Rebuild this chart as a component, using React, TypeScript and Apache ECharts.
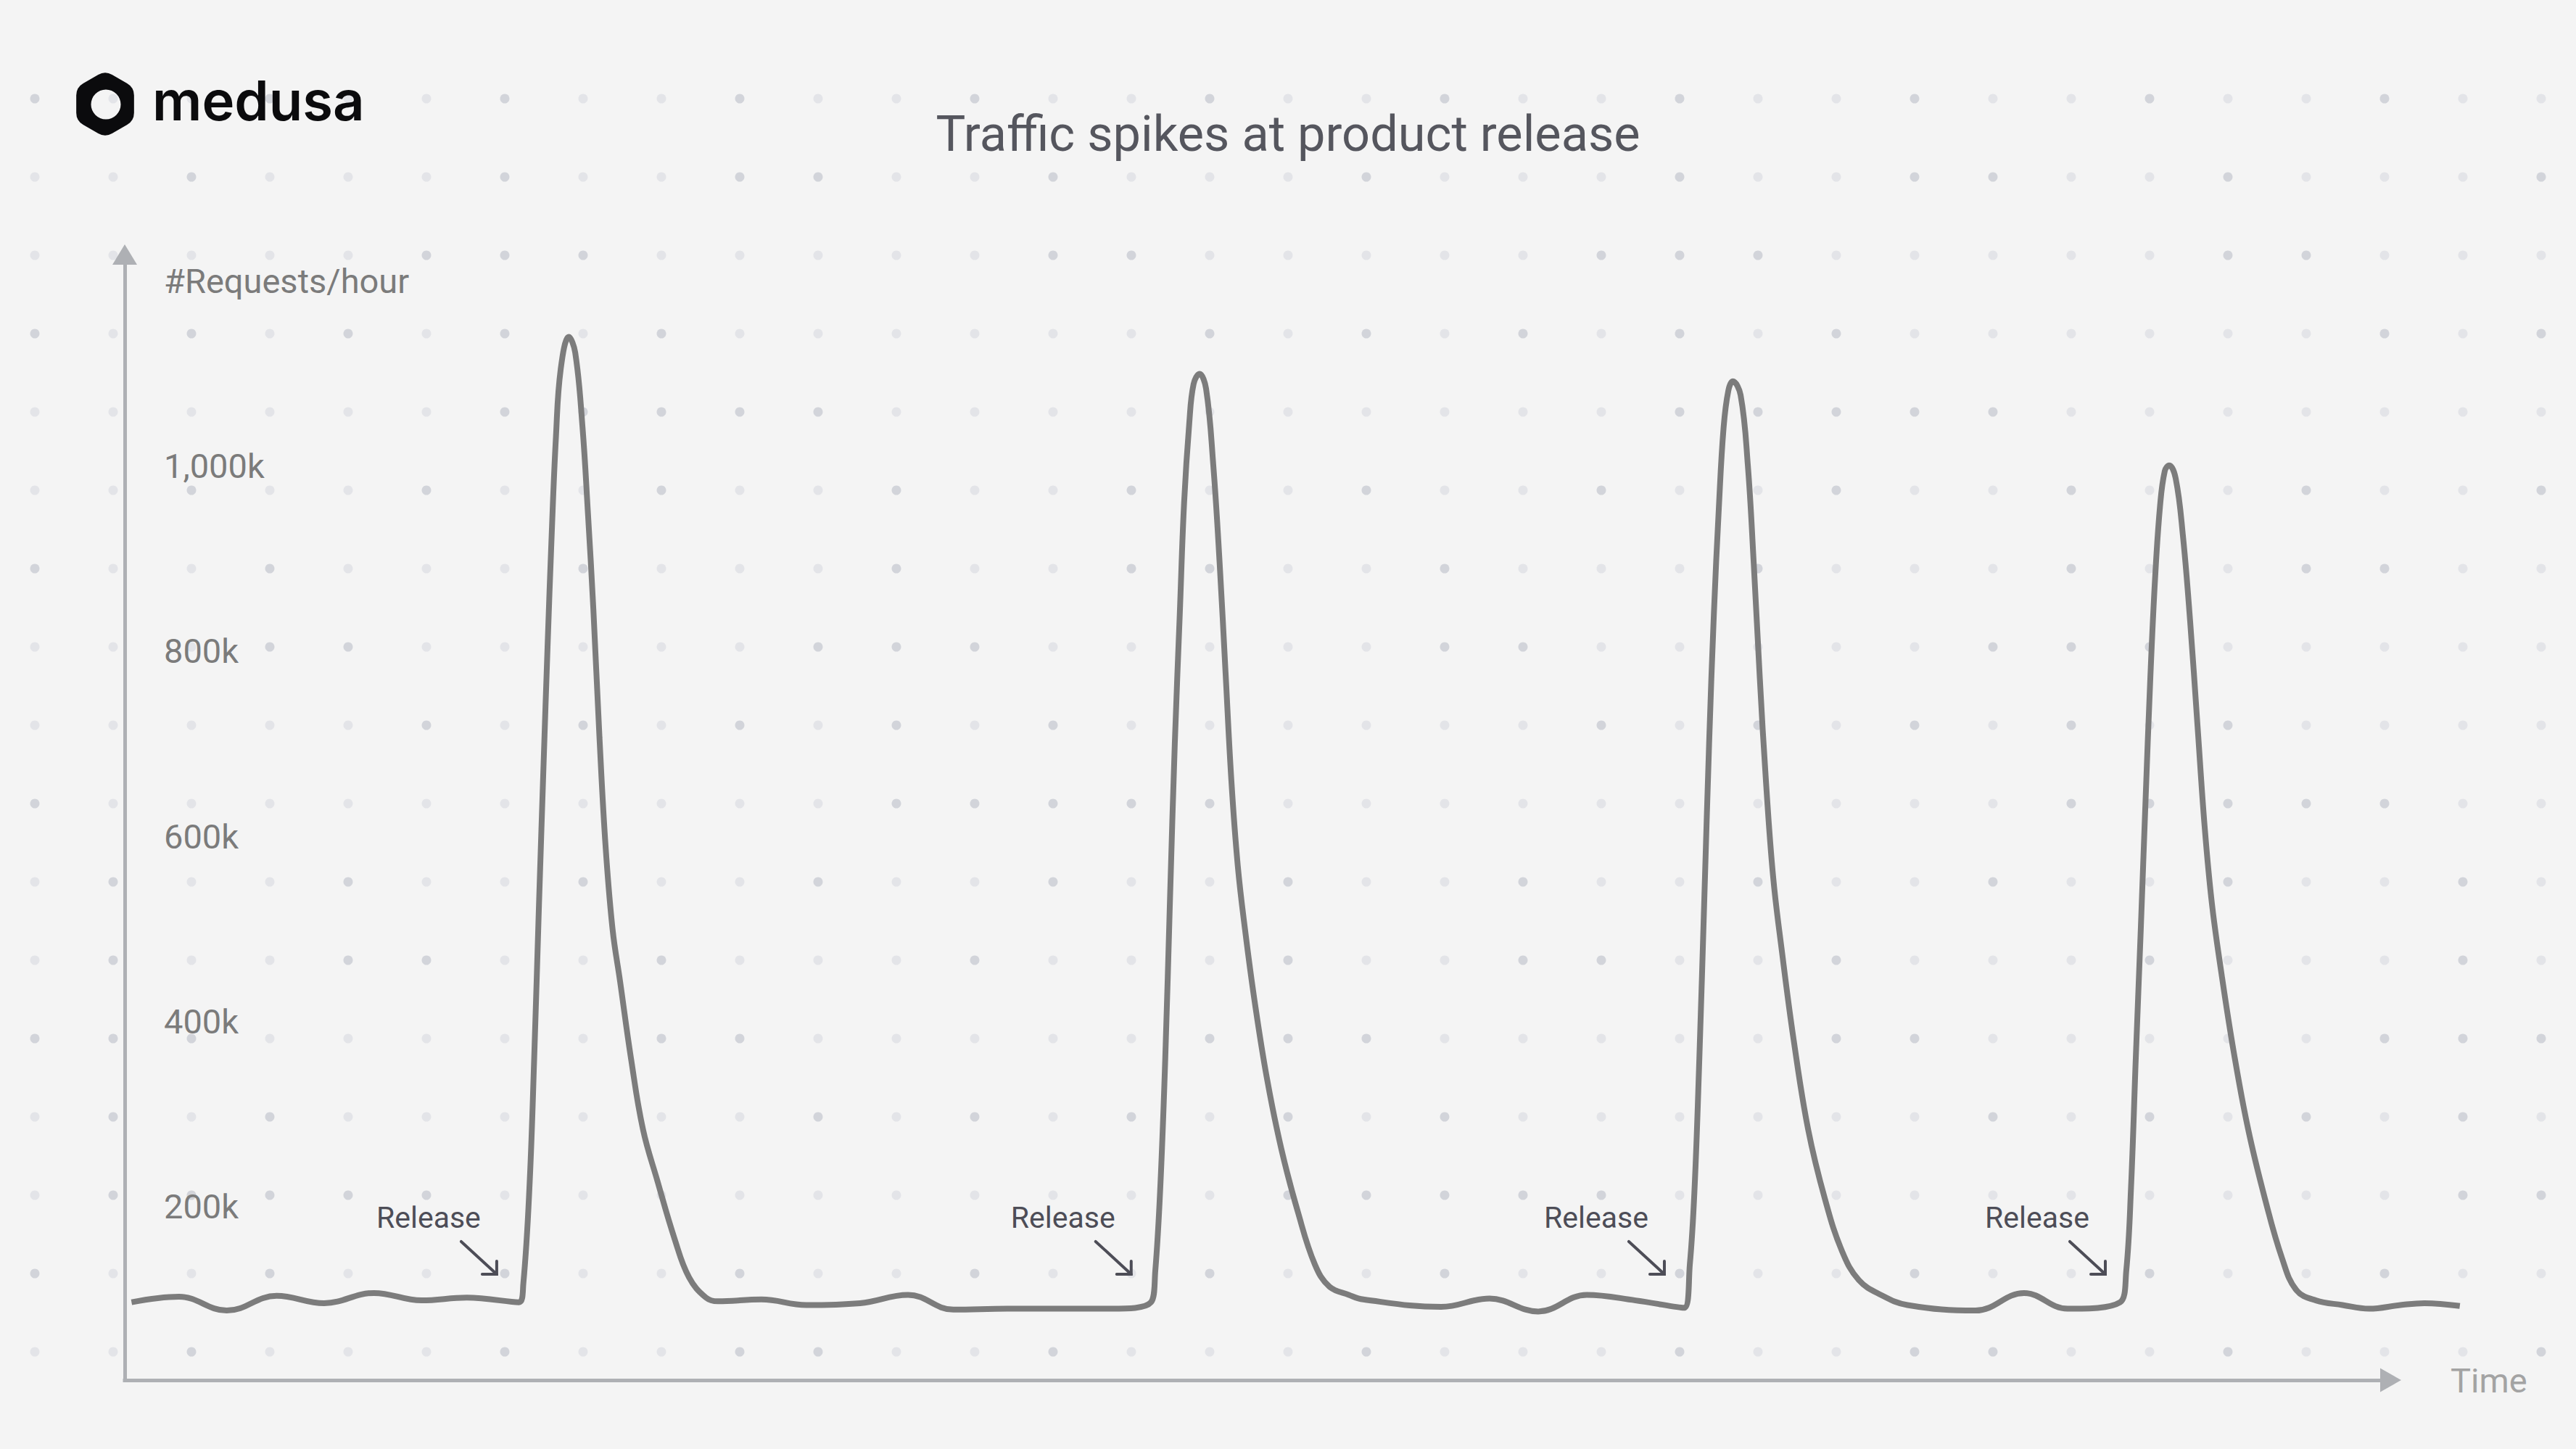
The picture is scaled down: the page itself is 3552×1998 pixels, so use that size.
import React, { useEffect, useRef } from "react";
import * as echarts from "echarts";

// ---------- data ----------
const TITLE = "Traffic spikes at product release";
const Y_NAME = "#Requests/hour";
const X_NAME = "Time";
const RELEASE_LABEL = "Release";

// time (arbitrary hour units, visible axis spans 0..100, data runs a little past the arrow)
const hours = [
  0.3, 2.4, 4.5, 6.7, 8.8, 11.0, 13.1, 15.1, 17.4,
  17.59, 17.86, 18.07, 18.28, 18.48, 18.66, 18.84, 19.03, 19.24, 19.6,
  19.88, 20.2, 20.44, 20.68, 20.95, 21.22, 21.53, 21.86, 22.34, 22.87, 23.51, 24.26, 24.9, 25.65, 26.18,
  28.1, 30.08, 32.45, 34.57, 36.57, 38.94, 40.81, 43.54, 45.29,
  45.48, 45.7, 45.92, 46.13, 46.34, 46.56, 46.75, 46.98, 47.17, 47.43,
  47.72, 48.04, 48.32, 48.58, 48.84, 49.12, 49.44, 49.86, 50.4, 51.04, 51.78, 52.52, 53.16, 54.02, 54.66,
  58.09, 60.23, 62.38, 64.52, 66.67, 68.81,
  69.07, 69.28, 69.49, 69.71, 69.92, 70.13, 70.35, 70.56, 70.77, 70.97,
  71.31, 71.63, 71.89, 72.16, 72.43, 72.75, 73.12, 73.65, 74.29, 75.04, 75.79, 76.53, 77.5, 78.67,
  81.68, 83.82, 85.74, 88.06,
  88.33, 88.54, 88.75, 88.97, 89.18, 89.39, 89.6, 89.82, 90.03, 90.22,
  90.51, 90.83, 91.15, 91.47, 91.79, 92.11, 92.54, 93.07, 93.71, 94.46, 95.2, 95.84, 96.7, 97.87,
  99.05, 100.43, 101.49, 103.05,
];

// requests per hour, in thousands
const requestsK = [
  96, 102, 87, 103, 95, 106, 98, 101, 96,
  116, 220, 360, 525, 675, 805, 925, 1032, 1105, 1140,
  1123, 1043, 950, 846, 707, 589, 499, 443, 360, 283, 227, 165, 123, 101, 97,
  99, 93, 95, 104, 88, 89, 89, 89, 96,
  130, 220, 360, 533, 700, 840, 960, 1047, 1089, 1100,
  1084, 1001, 895, 777, 659, 568, 499, 422, 339, 262, 193, 137, 113, 104, 99,
  91, 100, 86, 104, 98, 90,
  137, 220, 360, 533, 700, 840, 955, 1042, 1082, 1092,
  1077, 1001, 895, 770, 659, 555, 478, 380, 283, 207, 151, 120, 104, 93,
  87, 106, 89, 96,
  130, 220, 360, 499, 638, 770, 878, 957, 995, 1001,
  987, 925, 832, 721, 610, 527, 450, 367, 283, 207, 144, 109, 98, 93,
  89, 93, 95, 92,
];

const yTickValues = [200, 400, 600, 800, 1000];
const releaseHours = [17.28, 45.28, 68.81, 88.27];
const RELEASE_LEVEL_K = 95;

const X_AXIS_MAX = 100;
const DATA_MAX_HOUR = 103.05;
const Y_MIN = 11.8;
const Y_MAX = 1229;

// ---------- logo shape ----------
function f2(n: number) {
  return n.toFixed(2);
}
function roundedHexPath(R: number, cut: number) {
  const v: number[][] = [];
  for (let k = 0; k < 6; k++) {
    const a = ((-90 + 60 * k) * Math.PI) / 180;
    v.push([R * Math.cos(a), R * Math.sin(a)]);
  }
  const f = cut / R;
  const pts = v.map((p, i) => {
    const prev = v[(i + 5) % 6];
    const next = v[(i + 1) % 6];
    return {
      a: [p[0] + (prev[0] - p[0]) * f, p[1] + (prev[1] - p[1]) * f],
      v: p,
      b: [p[0] + (next[0] - p[0]) * f, p[1] + (next[1] - p[1]) * f],
    };
  });
  let d = `M ${f2(pts[0].b[0])} ${f2(pts[0].b[1])}`;
  for (let i = 1; i <= 6; i++) {
    const c = pts[i % 6];
    d += ` L ${f2(c.a[0])} ${f2(c.a[1])} Q ${f2(c.v[0])} ${f2(c.v[1])} ${f2(c.b[0])} ${f2(c.b[1])}`;
  }
  d += " Z";
  const r = 20.5;
  const cx = 1;
  const cy = 0.5;
  d += ` M ${f2(cx + r)} ${f2(cy)} A ${r} ${r} 0 1 0 ${f2(cx - r)} ${f2(cy)} A ${r} ${r} 0 1 0 ${f2(cx + r)} ${f2(cy)} Z`;
  return d;
}

let shapeRegistered = false;
function ensureShape() {
  if (shapeRegistered) return;
  echarts.graphic.registerShape(
    "medusaHex",
    echarts.graphic.extendPath(roundedHexPath(46, 11), {}) as any
  );
  shapeRegistered = true;
}

const FONT = "Roboto, 'Noto Sans', sans-serif";
const AXIS_COLOR = "#aeb0b4";
const LABEL_COLOR = "#7b7b7b";
const ANNOT_COLOR = "#4d4d57";

const GRID_LEFT = 172;
const GRID_TOP = 351;
const GRID_HEIGHT = 1552;
const AXIS_WIDTH = 3124.5;

export default function App() {
  const ref = useRef<HTMLDivElement>(null);

  useEffect(() => {
    ensureShape();
    const el = ref.current!;
    const chart = echarts.init(el, null, { renderer: "svg" });

    const pxPerHour = AXIS_WIDTH / X_AXIS_MAX;

    const option: any = {
      animation: false,
      backgroundColor: "#f4f4f4",
      title: {
        text: TITLE,
        left: "center",
        top: 150,
        padding: 0,
        textStyle: {
          fontFamily: FONT,
          fontSize: 68.5,
          lineHeight: 68.5,
          fontWeight: "normal",
          color: "#55565e",
        },
      },
      grid: [
        {
          left: GRID_LEFT,
          top: GRID_TOP,
          width: AXIS_WIDTH,
          height: GRID_HEIGHT,
          containLabel: false,
          outerBoundsMode: "none",
        },
        {
          left: GRID_LEFT,
          top: GRID_TOP,
          width: DATA_MAX_HOUR * pxPerHour,
          height: GRID_HEIGHT,
          containLabel: false,
          outerBoundsMode: "none",
        },
      ],
      xAxis: [
        {
          type: "value",
          gridIndex: 0,
          min: 0,
          max: X_AXIS_MAX,
          name: X_NAME,
          nameLocation: "end",
          nameGap: 82.5,
          nameMoveOverlap: false,
          nameTextStyle: {
            fontFamily: FONT,
            fontSize: 47,
            color: "#a3a3a3",
            align: "left",
            verticalAlign: "middle",
          },
          axisLine: {
            show: true,
            onZero: false,
            symbol: ["none", "triangle"],
            symbolSize: [33, 29],
            lineStyle: { color: AXIS_COLOR, width: 5, cap: "square" },
          },
          axisTick: { show: false },
          axisLabel: { show: false },
          splitLine: { show: false },
        },
        {
          type: "value",
          gridIndex: 1,
          min: 0,
          max: DATA_MAX_HOUR,
          show: false,
          splitLine: { show: false },
        },
      ],
      yAxis: [
        {
          type: "value",
          gridIndex: 0,
          min: Y_MIN,
          max: Y_MAX,
          name: Y_NAME,
          nameLocation: "end",
          nameGap: -36,
          nameMoveOverlap: false,
          nameTextStyle: {
            fontFamily: FONT,
            fontSize: 47,
            color: LABEL_COLOR,
            align: "left",
            verticalAlign: "middle",
            padding: [0, 0, 0, 54],
          },
          axisLine: {
            show: true,
            onZero: false,
            symbol: ["none", "triangle"],
            symbolSize: [34, 28],
            lineStyle: { color: AXIS_COLOR, width: 5, cap: "square" },
          },
          axisTick: { show: false },
          splitLine: { show: false },
          axisLabel: {
            show: true,
            inside: true,
            margin: 54,
            customValues: yTickValues,
            fontFamily: FONT,
            fontSize: 47,
            color: LABEL_COLOR,
            formatter: (v: number) => `${Number(v).toLocaleString("en-US")}k`,
          },
        },
        {
          type: "value",
          gridIndex: 1,
          min: Y_MIN,
          max: Y_MAX,
          show: false,
          splitLine: { show: false },
        },
      ],
      series: [
        {
          type: "line",
          name: "Requests per hour",
          xAxisIndex: 1,
          yAxisIndex: 1,
          data: hours.map((h, i) => [h, requestsK[i]]),
          smooth: 0.4,
          showSymbol: false,
          symbol: "none",
          clip: false,
          silent: true,
          z: 3,
          lineStyle: { color: "#7c7c7c", width: 8 },
        },
      ],
    };

    chart.setOption(option);

    // background dot texture
    const graphics: any[] = [];
    for (let j = 0; j <= 16; j++) {
      for (let i = 0; i <= 32; i++) {
        const dark = (i * 7 + j * 11 + ((i * j) % 5)) % 3 === 0;
        graphics.push({
          type: "circle",
          silent: true,
          z: 0,
          shape: { cx: 48 + 108 * i, cy: 136 + 108 * j, r: 6.5 },
          style: { fill: dark ? "#d2d4da" : "#e3e4e8" },
        });
      }
    }

    // logo
    graphics.push({
      type: "medusaHex",
      x: 145,
      y: 143.5,
      z: 5,
      silent: true,
      style: { fill: "#0b0b0d" },
    });
    graphics.push({
      type: "text",
      z: 5,
      silent: true,
      style: {
        text: "medusa",
        x: 210,
        y: 138,
        fontFamily: "Inter, 'Noto Sans', sans-serif",
        fontSize: 76,
        fontWeight: 600,
        fill: "#0b0b0d",
        align: "left",
        verticalAlign: "middle",
      },
    });

    // release annotations anchored to data coordinates
    releaseHours.forEach((t) => {
      const p = chart.convertToPixel({ xAxisIndex: 1, yAxisIndex: 1 }, [t, RELEASE_LEVEL_K]) as number[];
      const ax = p[0];
      const ay = p[1];
      const tx = ax - 27;
      const ty = ay - 40;
      graphics.push({
        type: "text",
        z: 20,
        silent: true,
        style: {
          text: RELEASE_LABEL,
          x: tx - 94,
          y: ay - 118,
          fontFamily: FONT,
          fontSize: 41,
          fill: ANNOT_COLOR,
          align: "center",
          verticalAlign: "middle",
        },
      });
      graphics.push({
        type: "line",
        z: 20,
        silent: true,
        shape: { x1: tx - 49, y1: ty - 45, x2: tx, y2: ty },
        style: { stroke: ANNOT_COLOR, lineWidth: 4, lineCap: "round" },
      });
      graphics.push({
        type: "polyline",
        z: 20,
        silent: true,
        shape: { points: [[tx - 20, ty], [tx, ty], [tx, ty - 18]] },
        style: { stroke: ANNOT_COLOR, lineWidth: 4, fill: null, lineCap: "round", lineJoin: "miter" },
      });
    });

    chart.setOption({ graphic: graphics });

    return () => {
      chart.dispose();
    };
  }, []);

  return (
    <div
      ref={ref}
      style={{ position: "fixed", left: 0, top: 0, width: "3552px", height: "1998px" }}
    />
  );
}
